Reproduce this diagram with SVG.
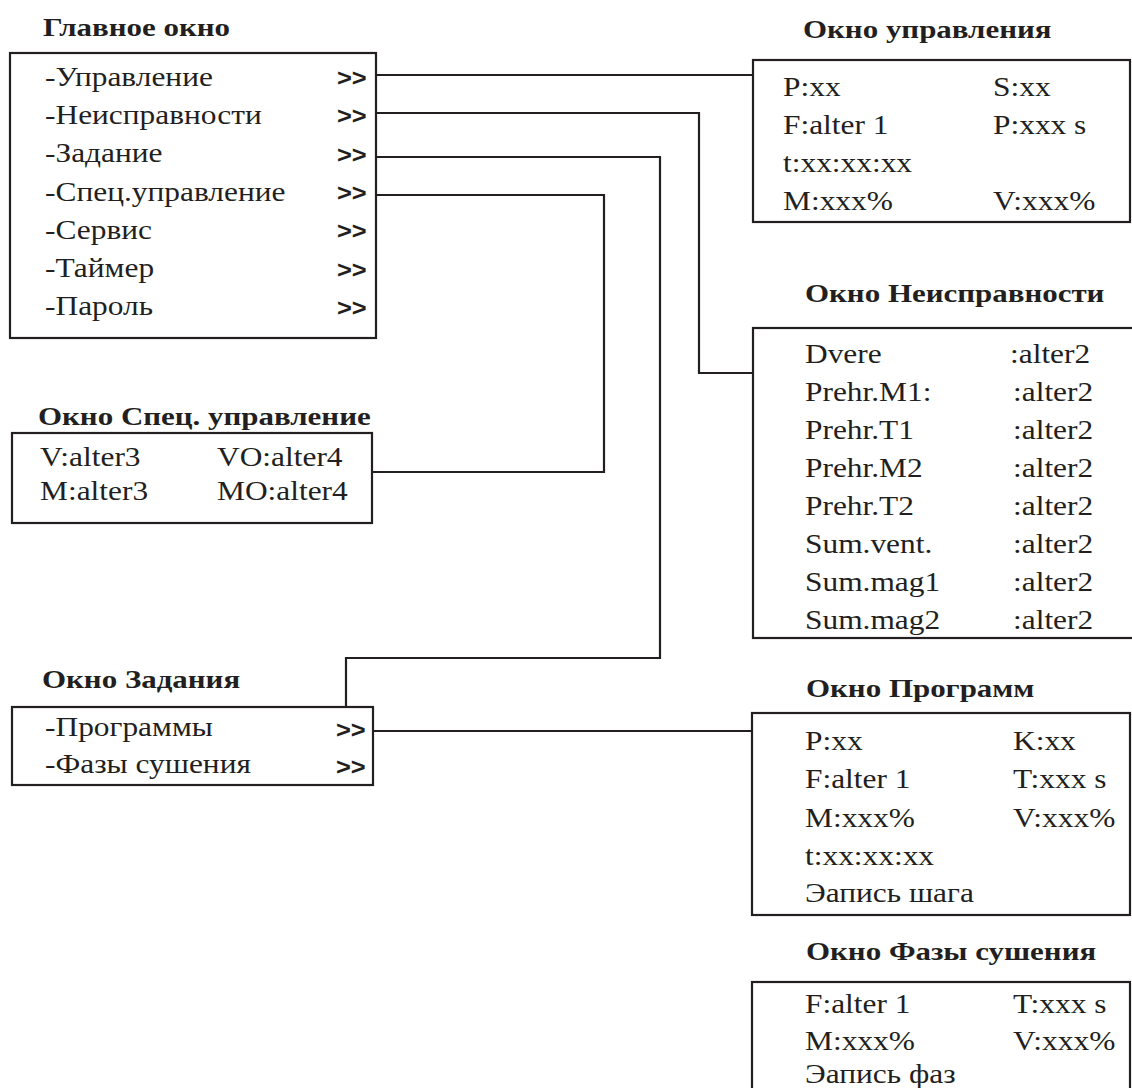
<svg xmlns="http://www.w3.org/2000/svg" width="1132" height="1088" viewBox="0 0 1132 1088">
<style>
.box{fill:none;stroke:#231f20;stroke-width:2.2}
.ln{fill:none;stroke:#231f20;stroke-width:2.2}
.t{font-family:"Liberation Serif","Times New Roman",serif;font-size:26.5px;fill:#231f20}
.h{font-family:"Liberation Serif","Times New Roman",serif;font-size:26px;font-weight:bold;fill:#231f20}
.a{font-family:"Liberation Sans",Arial,sans-serif;font-size:24px;font-weight:bold;fill:#231f20}
</style>
<rect width="1132" height="1088" fill="#ffffff"/>
<g id="main">
<text class="h" transform="matrix(1.19 0 0 1 43 36)">Главное окно</text>
<rect class="box" x="10" y="53" width="366" height="285"/>
<text class="t" transform="matrix(1.185 0 0 1 45 86)">-Управление</text>
<text class="t" transform="matrix(1.185 0 0 1 45 124)">-Неисправности</text>
<text class="t" transform="matrix(1.185 0 0 1 45 162)">-Задание</text>
<text class="t" transform="matrix(1.185 0 0 1 45 201)">-Спец.управление</text>
<text class="t" transform="matrix(1.185 0 0 1 45 239)">-Сервис</text>
<text class="t" transform="matrix(1.185 0 0 1 45 277)">-Таймер</text>
<text class="t" transform="matrix(1.185 0 0 1 45 315)">-Пароль</text>
<text class="a" transform="matrix(1.06 0 0 1 337 86)">&gt;&gt;</text>
<text class="a" transform="matrix(1.06 0 0 1 337 124)">&gt;&gt;</text>
<text class="a" transform="matrix(1.06 0 0 1 337 163)">&gt;&gt;</text>
<text class="a" transform="matrix(1.06 0 0 1 337 201)">&gt;&gt;</text>
<text class="a" transform="matrix(1.06 0 0 1 337 239)">&gt;&gt;</text>
<text class="a" transform="matrix(1.06 0 0 1 337 278)">&gt;&gt;</text>
<text class="a" transform="matrix(1.06 0 0 1 337 316)">&gt;&gt;</text>
</g>
<g id="control">
<text class="h" transform="matrix(1.19 0 0 1 803 38)">Окно управления</text>
<rect class="box" x="753" y="60" width="377" height="162"/>
<text class="t" transform="matrix(1.185 0 0 1 783 96)">P:xx</text>
<text class="t" transform="matrix(1.185 0 0 1 993 96)">S:xx</text>
<text class="t" transform="matrix(1.185 0 0 1 783 134)">F:alter 1</text>
<text class="t" transform="matrix(1.185 0 0 1 993 134)">P:xxx s</text>
<text class="t" transform="matrix(1.185 0 0 1 783 172)">t:xx:xx:xx</text>
<text class="t" transform="matrix(1.185 0 0 1 783 210)">M:xxx%</text>
<text class="t" transform="matrix(1.185 0 0 1 993 210)">V:xxx%</text>
</g>
<g id="faults">
<text class="h" transform="matrix(1.19 0 0 1 805 302)">Окно Неисправности</text>
<rect class="box" x="753" y="328" width="400" height="310"/>
<text class="t" transform="matrix(1.185 0 0 1 805 363)">Dvere</text>
<text class="t" transform="matrix(1.185 0 0 1 1010 363)">:alter2</text>
<text class="t" transform="matrix(1.185 0 0 1 805 401)">Prehr.M1:</text>
<text class="t" transform="matrix(1.185 0 0 1 1013 401)">:alter2</text>
<text class="t" transform="matrix(1.185 0 0 1 805 439)">Prehr.T1</text>
<text class="t" transform="matrix(1.185 0 0 1 1013 439)">:alter2</text>
<text class="t" transform="matrix(1.185 0 0 1 805 477)">Prehr.M2</text>
<text class="t" transform="matrix(1.185 0 0 1 1013 477)">:alter2</text>
<text class="t" transform="matrix(1.185 0 0 1 805 515)">Prehr.T2</text>
<text class="t" transform="matrix(1.185 0 0 1 1013 515)">:alter2</text>
<text class="t" transform="matrix(1.185 0 0 1 805 553)">Sum.vent.</text>
<text class="t" transform="matrix(1.185 0 0 1 1013 553)">:alter2</text>
<text class="t" transform="matrix(1.185 0 0 1 805 591)">Sum.mag1</text>
<text class="t" transform="matrix(1.185 0 0 1 1013 591)">:alter2</text>
<text class="t" transform="matrix(1.185 0 0 1 805 629)">Sum.mag2</text>
<text class="t" transform="matrix(1.185 0 0 1 1013 629)">:alter2</text>
</g>
<g id="special">
<text class="h" transform="matrix(1.19 0 0 1 38 425)">Окно Спец. управление</text>
<rect class="box" x="12" y="433" width="360" height="90"/>
<text class="t" transform="matrix(1.185 0 0 1 40 466)">V:alter3</text>
<text class="t" transform="matrix(1.185 0 0 1 217 466)">VO:alter4</text>
<text class="t" transform="matrix(1.185 0 0 1 40 500)">M:alter3</text>
<text class="t" transform="matrix(1.185 0 0 1 217 500)">MO:alter4</text>
</g>
<g id="task">
<text class="h" transform="matrix(1.19 0 0 1 42 688)">Окно Задания</text>
<rect class="box" x="12" y="707" width="361" height="78"/>
<text class="t" transform="matrix(1.185 0 0 1 45 736)">-Программы</text>
<text class="t" transform="matrix(1.185 0 0 1 45 773)">-Фазы сушения</text>
<text class="a" transform="matrix(1.06 0 0 1 336 738)">&gt;&gt;</text>
<text class="a" transform="matrix(1.06 0 0 1 336 775)">&gt;&gt;</text>
</g>
<g id="programs">
<text class="h" transform="matrix(1.19 0 0 1 806 697)">Окно Программ</text>
<rect class="box" x="752" y="713" width="378" height="202"/>
<text class="t" transform="matrix(1.185 0 0 1 805 750)">P:xx</text>
<text class="t" transform="matrix(1.185 0 0 1 1013 750)">K:xx</text>
<text class="t" transform="matrix(1.185 0 0 1 805 788)">F:alter 1</text>
<text class="t" transform="matrix(1.185 0 0 1 1013 788)">T:xxx s</text>
<text class="t" transform="matrix(1.185 0 0 1 805 827)">M:xxx%</text>
<text class="t" transform="matrix(1.185 0 0 1 1013 827)">V:xxx%</text>
<text class="t" transform="matrix(1.185 0 0 1 805 865)">t:xx:xx:xx</text>
<text class="t" transform="matrix(1.185 0 0 1 805 902)">Эапись шага</text>
</g>
<g id="phases">
<text class="h" transform="matrix(1.19 0 0 1 806 960)">Окно Фазы сушения</text>
<rect class="box" x="752" y="982" width="378" height="130"/>
<text class="t" transform="matrix(1.185 0 0 1 805 1013)">F:alter 1</text>
<text class="t" transform="matrix(1.185 0 0 1 1013 1013)">T:xxx s</text>
<text class="t" transform="matrix(1.185 0 0 1 805 1050)">M:xxx%</text>
<text class="t" transform="matrix(1.185 0 0 1 1013 1050)">V:xxx%</text>
<text class="t" transform="matrix(1.185 0 0 1 805 1083)">Эапись фаз</text>
</g>
<g id="connectors">
<polyline class="ln" points="376,75 753,75"/>
<polyline class="ln" points="376,113 699,113 699,373 753,373"/>
<polyline class="ln" points="376,157 660,157 660,658 346,658 346,707"/>
<polyline class="ln" points="376,195 604,195 604,472 372,472"/>
<polyline class="ln" points="373,731 752,731"/>
</g>
</svg>
